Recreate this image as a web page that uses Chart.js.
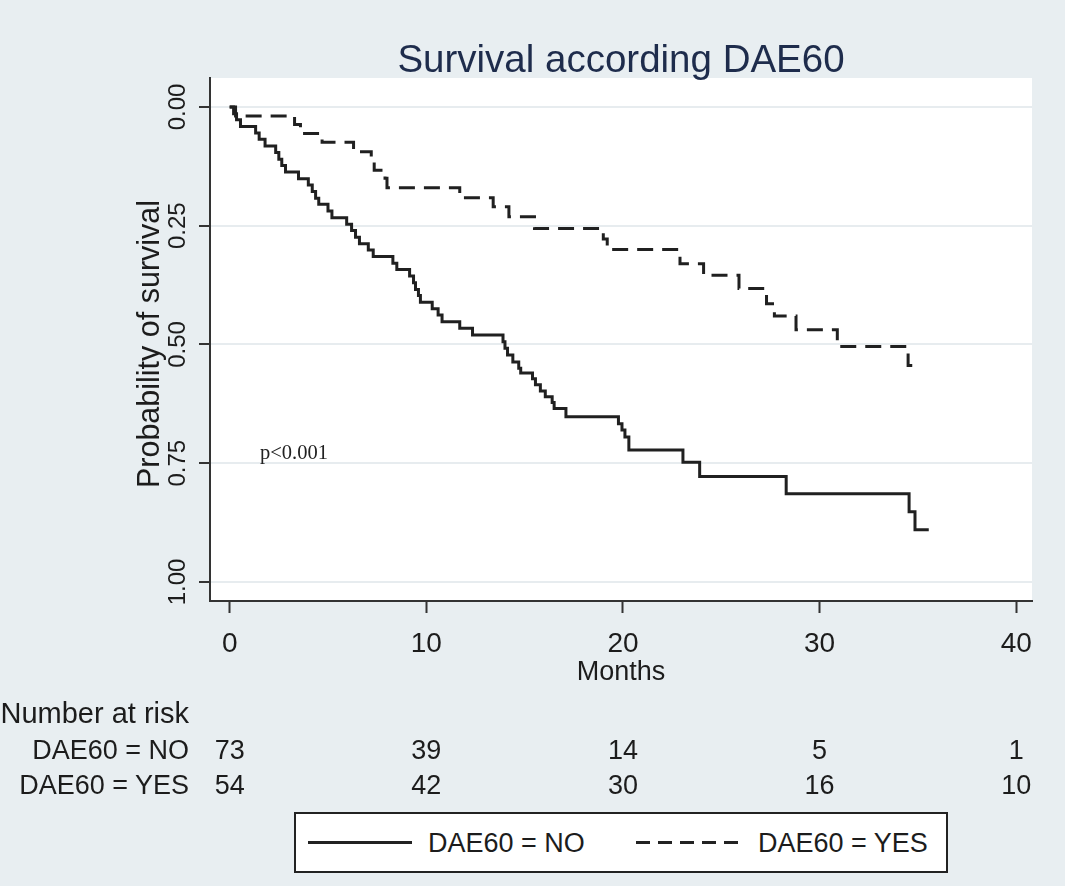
<!DOCTYPE html>
<html>
<head>
<meta charset="utf-8">
<script src="https://cdn.jsdelivr.net/npm/chart.js@4.4.1/dist/chart.umd.min.js"></script>
<style>
  body { margin: 0; background: #e8eef1; }
  #wrap { position: relative; width: 1065px; height: 886px; overflow: hidden; font-family: 'Liberation Sans', Arial, sans-serif; color: #1c1c1c; }
  #kmChart { position: absolute; left: 0; top: 0; }
  .txt { position: absolute; line-height: 1; white-space: nowrap; }
  #legendBox { position: absolute; left: 294px; top: 812px; width: 654px; height: 61px; box-sizing: border-box; border: 2px solid #222; background: #fff; }
</style>
</head>
<body>
<div id="wrap">
  <canvas id="kmChart" width="1065" height="886"></canvas>
</div>
<script>
// Kaplan-Meier steps (months, plotted value)
const noTimes  = [0, 0.2, 0.35, 0.55, 1.32, 1.5, 1.8, 2.34, 2.5, 2.65, 2.84, 3.5, 4.0, 4.2, 4.37, 4.53, 5.0, 5.2, 5.95, 6.2, 6.4, 6.6, 7.05, 7.3, 8.3, 8.5, 9.15, 9.35, 9.45, 9.6, 9.7, 10.3, 10.6, 10.8, 11.7, 12.35, 13.9, 14.0, 14.13, 14.4, 14.7, 14.8, 15.4, 15.55, 15.8, 16.05, 16.4, 16.5, 17.1, 19.77, 19.95, 20.1, 20.3, 23.05, 23.9, 28.3, 34.55, 34.85, 35.55];
const noValues = [0, 0.014, 0.027, 0.041, 0.055, 0.068, 0.082, 0.096, 0.11, 0.123, 0.137, 0.151, 0.164, 0.178, 0.192, 0.205, 0.219, 0.233, 0.247, 0.26, 0.274, 0.288, 0.301, 0.315, 0.329, 0.342, 0.356, 0.37, 0.384, 0.397, 0.411, 0.425, 0.438, 0.452, 0.466, 0.48, 0.494, 0.508, 0.522, 0.537, 0.55, 0.56, 0.572, 0.585, 0.598, 0.61, 0.622, 0.635, 0.652, 0.667, 0.68, 0.695, 0.722, 0.748, 0.778, 0.814, 0.852, 0.89, 0.89];
const yesTimes  = [0, 0.3, 3.3, 3.6, 4.7, 6.3, 7.2, 7.35, 7.9, 8.0, 11.7, 13.4, 14.2, 15.5, 19.0, 19.2, 22.9, 24.1, 25.9, 27.3, 27.7, 28.8, 30.9, 34.5, 34.75];
const yesValues = [0, 0.019, 0.037, 0.056, 0.074, 0.094, 0.113, 0.133, 0.15, 0.17, 0.191, 0.21, 0.231, 0.256, 0.278, 0.30, 0.33, 0.354, 0.382, 0.414, 0.44, 0.469, 0.504, 0.544, 0.544];

const xTickValues = [0, 10, 20, 30, 40];
const yTickValues = [0, 0.25, 0.5, 0.75, 1];

// number at risk
const riskTimes = [0, 10, 20, 30, 40];
const riskNo  = [73, 39, 14, 5, 1];
const riskYes = [54, 42, 30, 16, 10];

const FONT = "'Liberation Sans', Arial, sans-serif";

const plotBg = {
    id: 'plotBg',
    beforeDraw(chart) {
        const { ctx, chartArea: a } = chart;
        ctx.save();
        ctx.fillStyle = '#ffffff';
        ctx.fillRect(a.left, a.top, a.right - a.left, a.bottom - a.top);
        ctx.restore();
    }
};

const axisText = {
    id: 'axisText',
    afterDraw(chart) {
        const { ctx, scales } = chart;
        ctx.save();
        // title
        ctx.fillStyle = '#1e2c4c';
        ctx.font = '38.5px ' + FONT;
        ctx.textAlign = 'center';
        ctx.textBaseline = 'alphabetic';
        ctx.fillText('Survival according DAE60', 621, 72);

        ctx.fillStyle = '#1c1c1c';
        // x tick labels
        ctx.font = '28px ' + FONT;
        xTickValues.forEach(v => ctx.fillText(String(v), scales.x.getPixelForValue(v), 652));
        ctx.font = '27px ' + FONT;
        ctx.fillText('Months', 621, 680);

        // y tick labels, rotated
        yTickValues.forEach(v => {
            ctx.save();
            ctx.translate(185, scales.y.getPixelForValue(v));
            ctx.rotate(-Math.PI / 2);
            ctx.font = '24px ' + FONT;
            ctx.textAlign = 'center';
            ctx.fillText(v.toFixed(2), 0, 0);
            ctx.restore();
        });
        ctx.save();
        ctx.translate(159, 344);
        ctx.rotate(-Math.PI / 2);
        ctx.font = '30.5px ' + FONT;
        ctx.textAlign = 'center';
        ctx.fillText('Probability of survival', 0, 0);
        ctx.restore();

        // p-value
        ctx.fillStyle = '#222';
        ctx.font = "20.5px 'Liberation Serif', serif";
        ctx.textAlign = 'left';
        ctx.fillText('p<0.001', 260, 459);
        ctx.restore();
    }
};

const ctx = document.getElementById('kmChart').getContext('2d');
const kmChart = new Chart(ctx, {
    type: 'line',
    data: {
        datasets: [{
            label: 'DAE60 = NO',
            data: noTimes.map((t, i) => ({ x: t, y: noValues[i] })),
            stepped: 'before',
            borderColor: '#202020',
            borderWidth: 3,
            pointRadius: 0,
            fill: false
        }, {
            label: 'DAE60 = YES',
            data: yesTimes.map((t, i) => ({ x: t, y: yesValues[i] })),
            stepped: 'before',
            borderColor: '#202020',
            borderWidth: 3,
            borderDash: [16, 9],
            pointRadius: 0,
            fill: false
        }]
    },
    options: {
        responsive: false,
        animation: false,
        layout: { padding: { top: 78, right: 33, left: 0, bottom: 0 } },
        plugins: {
            legend: { display: false },
            tooltip: { enabled: false },
            title: { display: false }
        },
        scales: {
            x: {
                type: 'linear',
                min: -1.0,
                max: 40.8,
                afterBuildTicks: axis => { axis.ticks = xTickValues.map(v => ({ value: v })); },
                afterFit: axis => { axis.height = 285; },
                ticks: { display: false },
                grid: { drawOnChartArea: false, tickLength: 12, tickColor: '#333', tickWidth: 2 },
                border: { color: '#333', width: 2 }
            },
            y: {
                type: 'linear',
                reverse: true,
                min: -0.061,
                max: 1.04,
                afterBuildTicks: axis => { axis.ticks = yTickValues.map(v => ({ value: v })); },
                afterFit: axis => { axis.width = 210; },
                ticks: { display: false },
                grid: { color: '#e7ecef', lineWidth: 2, tickLength: 11, tickColor: '#333', tickWidth: 2 },
                border: { color: '#333', width: 2 }
            }
        }
    },
    plugins: [plotBg, axisText]
});

// number-at-risk table and legend as page text
const wrap = document.getElementById('wrap');
function addText(str, opts) {
    const d = document.createElement('div');
    d.className = 'txt';
    d.textContent = str;
    const fs = opts.size || 27;
    d.style.fontSize = fs + 'px';
    d.style.top = (opts.baseline - 0.8465 * fs) + 'px';
    if (opts.align === 'right') {
        d.style.left = (opts.x - 300) + 'px';
        d.style.width = '300px';
        d.style.textAlign = 'right';
    } else if (opts.align === 'center') {
        d.style.left = (opts.x - 60) + 'px';
        d.style.width = '120px';
        d.style.textAlign = 'center';
    } else {
        d.style.left = opts.x + 'px';
    }
    wrap.appendChild(d);
    return d;
}

addText('Number at risk', { x: 189, baseline: 724, size: 29, align: 'right' });
addText('DAE60 = NO', { x: 189, baseline: 760, align: 'right' });
addText('DAE60 = YES', { x: 189, baseline: 795, align: 'right' });
riskTimes.forEach((t, i) => {
    const px = kmChart.scales.x.getPixelForValue(t);
    addText(String(riskNo[i]), { x: px, baseline: 760, align: 'center' });
    addText(String(riskYes[i]), { x: px, baseline: 795, align: 'center' });
});

const box = document.createElement('div');
box.id = 'legendBox';
wrap.appendChild(box);
const solidKey = document.createElement('div');
solidKey.style.cssText = 'position:absolute;left:308px;top:841px;width:104px;height:2.5px;background:#222;';
wrap.appendChild(solidKey);
const dashKey = document.createElement('div');
dashKey.style.cssText = 'position:absolute;left:636px;top:841px;width:102px;height:2.5px;background:repeating-linear-gradient(90deg,#222 0 14px,transparent 14px 22px);';
wrap.appendChild(dashKey);
addText('DAE60 = NO', { x: 428, baseline: 853 });
addText('DAE60 = YES', { x: 758, baseline: 853 });
</script>
</body>
</html>
